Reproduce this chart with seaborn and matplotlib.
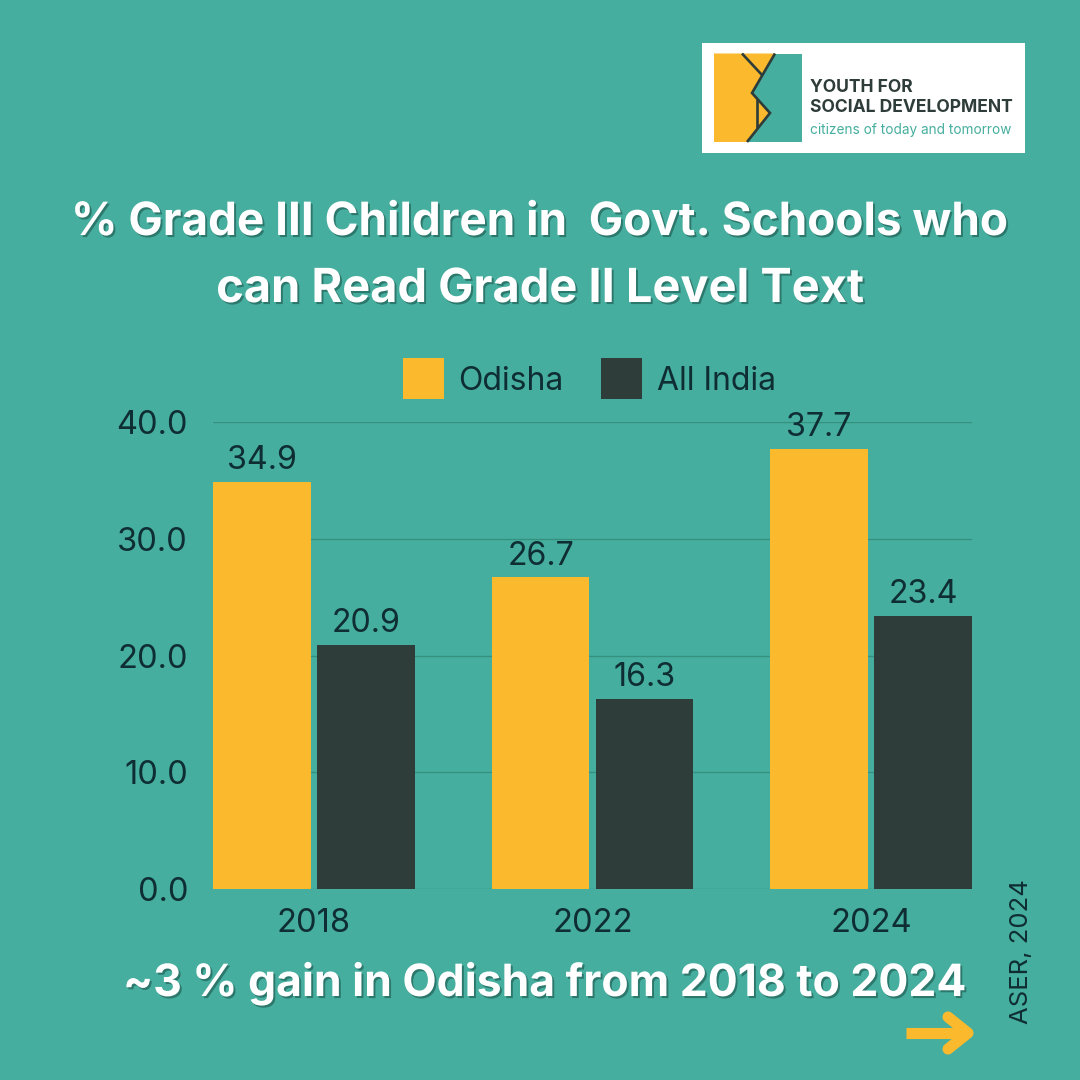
import matplotlib
matplotlib.use("Agg")
import matplotlib.pyplot as plt
import matplotlib.patheffects as pe
from matplotlib.patches import Rectangle, Polygon
import seaborn as sns
import pandas as pd

years = ["2018", "2022", "2024"]
odisha = [34.9, 26.7, 37.7]
all_india = [20.9, 16.3, 23.4]
yticks = [0, 10, 20, 30, 40]

BG = "#46AE9E"
YEL = "#FBB92D"
DARK = "#2E3D39"
TXT = "#0F2E33"

sns.set_theme(style="white")
plt.rcParams["font.family"] = ["Inter", "Lato", "DejaVu Sans"]
plt.rcParams["font.weight"] = "normal"

df = pd.DataFrame({"Year": years * 2,
                   "Value": odisha + all_india,
                   "Series": ["Odisha"] * 3 + ["All India"] * 3})

fig = plt.figure(figsize=(10.8, 10.8), dpi=100, facecolor=BG)
W = H = 1080.0
L, R, T, B = 213, 972, 422, 889
ax = fig.add_axes([L / W, 1 - B / H, (R - L) / W, (B - T) / H], facecolor="none")
sns.barplot(data=df, x="Year", y="Value", hue="Series", hue_order=["Odisha", "All India"],
            palette=[YEL, DARK], width=0.746, gap=0.059, saturation=1, legend=False, ax=ax,
            linewidth=0, edgecolor="none", zorder=3)
ax.set_xlim(-0.362, 2.362)
ax.set_ylim(0, 40)
ax.set_yticks(yticks)
ax.set_yticklabels([f"{v:.1f}" for v in yticks])
ax.set_xlabel(""); ax.set_ylabel("")
ax.grid(axis="y", color="#35907F", lw=1, zorder=0)
ax.set_axisbelow(True)
for s in ax.spines.values():
    s.set_visible(False)
ax.tick_params(axis="both", length=0, labelsize=23.5, labelcolor=TXT)
ax.tick_params(axis="y", pad=18)
ax.tick_params(axis="x", pad=14)
for c in ax.containers:
    ax.bar_label(c, fmt="%.1f", fontsize=23.2, color=TXT, padding=4)

# overlay in pixel coordinates for layout elements
ov = fig.add_axes([0, 0, 1, 1], facecolor="none")
ov.set_xlim(0, W); ov.set_ylim(H, 0); ov.axis("off")

def shadowed(x, y, s, size):
    ov.text(x, y, s, ha="center", va="center", fontsize=size, color="white", fontweight="bold",
            path_effects=[pe.withSimplePatchShadow(offset=(1.4, -1.5), shadow_rgbFace="#2A7368", alpha=0.9)])

shadowed(540, 223, "% Grade III Children in  Govt. Schools who", 33)
shadowed(540, 290, "can Read Grade II Level Text", 33.8)
shadowed(544, 983, "~3 % gain in Odisha from 2018 to 2024", 32)

# legend
ov.add_patch(Rectangle((403, 358), 41, 41, color=YEL, lw=0))
ov.add_patch(Rectangle((601, 358), 41, 41, color=DARK, lw=0))
ov.text(458, 382, "Odisha", fontsize=23, color=TXT, va="center")
ov.text(657, 382, "All India", fontsize=23, color=TXT, va="center")

# source
ov.text(1021, 952, "ASER, 2024", rotation=90, fontsize=18.5, color=TXT, ha="center", va="center")

# arrow
ov.plot([906, 962], [1033, 1033], color=YEL, lw=8, solid_capstyle="butt")
ov.plot([948, 968, 948], [1017, 1033, 1049], color=YEL, lw=8, solid_capstyle="round", solid_joinstyle="round")

# logo
ov.add_patch(Rectangle((702, 43), 323, 110, color="white", lw=0))
ov.add_patch(Rectangle((714, 53.5), 88, 88.5, color=BG, lw=0))
ov.add_patch(Polygon([(714, 53.5), (775, 53.5), (752, 93), (770, 113), (747, 142), (714, 142)], color=YEL, lw=0))
ov.plot([775, 752, 770, 747], [53.5, 93, 113, 142], color=DARK, lw=1.9, solid_joinstyle="miter", solid_capstyle="butt")
ov.plot([742, 762], [53.5, 75], color=DARK, lw=1.9, solid_capstyle="butt")
ov.plot([757, 757], [99, 128], color=DARK, lw=1.9, solid_capstyle="butt")
ov.text(810, 87, "YOUTH FOR", fontsize=12.6, color=DARK, fontweight="bold", va="center")
ov.text(810, 107, "SOCIAL DEVELOPMENT", fontsize=12.6, color=DARK, fontweight="bold", va="center")
ov.text(810, 130, "citizens of today and tomorrow", fontsize=9.8, color=BG, va="center")

fig.savefig("out.png", dpi=100, facecolor=BG)
